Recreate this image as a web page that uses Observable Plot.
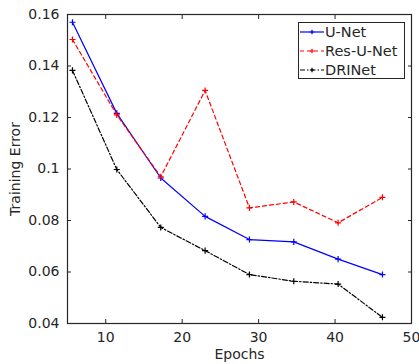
<!DOCTYPE html>
<html>
<head>
<meta charset="utf-8">
<script src="https://cdn.jsdelivr.net/npm/d3@7"></script>
<script src="https://cdn.jsdelivr.net/npm/@observablehq/plot@0.6"></script>
<style>
  html, body { margin: 0; padding: 0; background: #fff; }
  #wrap { position: relative; width: 419px; height: 364px; font-family: "DejaVu Sans", sans-serif; }
  #legend { position: absolute; left: 298px; top: 22px; width: 105px; height: 55px; border: 1px solid #262626; background: #fff; box-sizing: content-box; }
  .row { position: absolute; left: 0; height: 19px; display: flex; align-items: center; font-size: 14.5px; color: #262626; }
  .row svg { margin-left: 1px; }
  .row span { margin-left: 1px; }
</style>
</head>
<body>
<div id="wrap"></div>
<script>
const epochs = [5.65, 11.45, 17.2, 23.0, 28.8, 34.6, 40.4, 46.2];
const unet    = [0.157, 0.1216, 0.0965, 0.0816, 0.0726, 0.0717, 0.065, 0.059];
const resunet = [0.1503, 0.1210, 0.0970, 0.1305, 0.0849, 0.0872, 0.0791, 0.0890];
const drinet  = [0.1383, 0.0998, 0.0773, 0.0683, 0.0590, 0.0564, 0.0553, 0.0424];
const seriesNames = ["U-Net", "Res-U-Net", "DRINet"];
const seriesColors = ["#0000ff", "#ff0000", "#000000"];
const seriesDash = [null, "4,3", "5,2,1.5,2"];
const xTicks = [10, 20, 30, 40, 50];
const yTicks = [0.04, 0.06, 0.08, 0.1, 0.12, 0.14, 0.16];

const allSeries = [unet, resunet, drinet];
const rows = [];
allSeries.forEach((vals, i) => vals.forEach((v, j) => rows.push({series: seriesNames[i], x: epochs[j], y: v})));

const marks = [];
seriesNames.forEach((name, i) => {
  const d = rows.filter(r => r.series === name);
  marks.push(Plot.line(d, {x: "x", y: "y", stroke: seriesColors[i], strokeWidth: 1.2, strokeDasharray: seriesDash[i]}));
  marks.push(Plot.dot(d, {x: "x", y: "y", symbol: "plus", r: 2.1, stroke: seriesColors[i], strokeWidth: 1.2}));
});

const axisColor = "#262626";
const chart = Plot.plot({
  width: 419,
  height: 364,
  marginLeft: 67,
  marginRight: 8,
  marginTop: 14,
  marginBottom: 41,
  style: {fontFamily: "DejaVu Sans, sans-serif", fontSize: "14px", color: axisColor, background: "#fff"},
  x: {domain: [5, 50]},
  y: {domain: [0.04, 0.16]},
  marks: [
    Plot.axisX(xTicks, {anchor: "bottom", tickSize: 0, tickPadding: 9, label: "Epochs", labelAnchor: "center", labelArrow: "none", labelOffset: 35, fill: axisColor, fontSize: 14}),
    Plot.axisX(xTicks, {anchor: "bottom", tickSize: -4, tickFormat: () => "", label: null, stroke: axisColor}),
    Plot.axisX(xTicks, {anchor: "top", tickSize: -4, tickFormat: () => "", label: null, stroke: axisColor}),
    Plot.axisY(yTicks, {anchor: "left", tickSize: 0, tickPadding: 8, tickFormat: d => String(d), label: "Training Error", labelAnchor: "center", labelArrow: "none", labelOffset: 57, fill: axisColor, fontSize: 14}),
    Plot.axisY(yTicks, {anchor: "left", tickSize: -4, tickFormat: () => "", label: null, stroke: axisColor}),
    Plot.axisY(yTicks, {anchor: "right", tickSize: -4, tickFormat: () => "", label: null, stroke: axisColor}),
    ...marks,
    Plot.frame({stroke: axisColor, strokeWidth: 1.2})
  ]
});

const wrap = document.getElementById("wrap");
wrap.appendChild(chart);

const legend = document.createElement("div");
legend.id = "legend";
seriesNames.forEach((name, i) => {
  const row = document.createElement("div");
  row.className = "row";
  row.style.top = (i * 19 - 1) + "px";
  const dash = seriesDash[i] ? `stroke-dasharray="${seriesDash[i]}"` : "";
  row.innerHTML = `<svg width="24" height="12"><line x1="0" y1="6" x2="24" y2="6" stroke="${seriesColors[i]}" stroke-width="1.2" ${dash}/><path d="M12,3.8V8.2M9.8,6H14.2" stroke="${seriesColors[i]}" stroke-width="1.2"/></svg><span>${name}</span>`;
  legend.appendChild(row);
});
wrap.appendChild(legend);
</script>
</body>
</html>
